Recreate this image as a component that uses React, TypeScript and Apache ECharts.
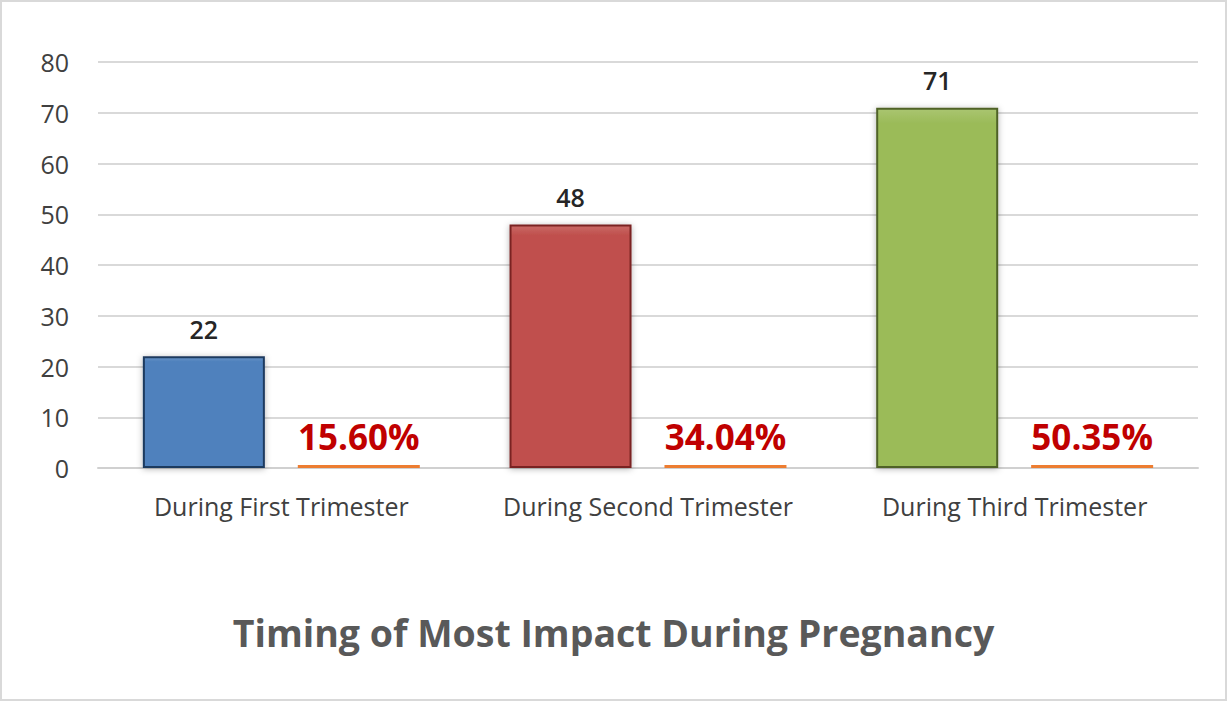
import { useEffect, useRef } from 'react'
import * as echarts from 'echarts'

const categories = ['During First Trimester', 'During Second Trimester', 'During Third Trimester']
const counts = [22, 48, 71]
const shares = [0.156, 0.3404, 0.5035]
const yTicks = [0, 10, 20, 30, 40, 50, 60, 70, 80]

const barColors = ['#4F81BD', '#C0504D', '#9BBB59']
const barBorders = ['#1F3A5F', '#7A2421', '#4F6228']

export default function App() {
  const chartRef = useRef<HTMLDivElement>(null)

  useEffect(() => {
    document.body.style.margin = '0'
    if (!chartRef.current) return
    const chart = echarts.init(chartRef.current, null, { renderer: 'svg' })

    const font = '"Open Sans", Lato, sans-serif'

    chart.setOption({
      animation: false,
      backgroundColor: '#fff',
      title: {
        text: 'Timing of Most Impact During Pregnancy',
        left: 'center',
        top: 606,
        textStyle: { fontFamily: font, fontSize: 37.5, fontWeight: 'bold', color: '#595959' },
      },
      grid: { left: 96, right: 27, top: 60, bottom: 231 },
      xAxis: {
        type: 'category',
        data: categories,
        axisLine: { lineStyle: { color: '#d0d0d0', width: 2 } },
        axisTick: { show: false },
        axisLabel: { fontFamily: font, fontSize: 25, color: '#404040', margin: 25, interval: 0 },
      },
      yAxis: {
        type: 'value',
        min: yTicks[0],
        max: yTicks[yTicks.length - 1],
        interval: 10,
        axisLine: { show: false },
        axisTick: { show: false },
        splitLine: { lineStyle: { color: '#d9d9d9', width: 2 } },
        axisLabel: { fontFamily: font, fontSize: 25, color: '#404040', margin: 29 },
      },
      series: [
        {
          type: 'bar',
          barWidth: 122,
          barGap: '27%',
          data: counts.map((v, i) => ({
            value: v,
            itemStyle: {
              color: new echarts.graphic.LinearGradient(0, 0, 0, 1, [
                { offset: 0, color: echarts.color.lift(barColors[i], 0.15) },
                { offset: 0.04, color: barColors[i] },
                { offset: 1, color: barColors[i] },
              ]),
              borderColor: barBorders[i],
              borderWidth: 2,
              shadowColor: 'rgba(0,0,0,0.3)',
              shadowBlur: 6,
              shadowOffsetY: 1,
            },
          })),
          label: {
            show: true,
            position: 'top',
            distance: 15,
            fontFamily: font,
            fontSize: 25,
            fontWeight: 600,
            color: '#262626',
          },
        },
        {
          type: 'bar',
          barWidth: 122,
          barMinHeight: 3,
          data: shares,
          itemStyle: { color: '#ED7D31' },
          label: {
            show: true,
            position: 'top',
            distance: 11,
            fontFamily: font,
            fontSize: 35,
            fontWeight: 'bold',
            color: '#C00000',
            formatter: (p: any) => (p.value * 100).toFixed(2) + '%',
          },
        },
      ],
    })

    return () => chart.dispose()
  }, [])

  return (
    <div
      style={{
        width: 1227,
        height: 701,
        boxSizing: 'border-box',
        border: '2px solid #d9d9d9',
      }}
    >
      <div ref={chartRef} style={{ width: 1223, height: 697 }} />
    </div>
  )
}
